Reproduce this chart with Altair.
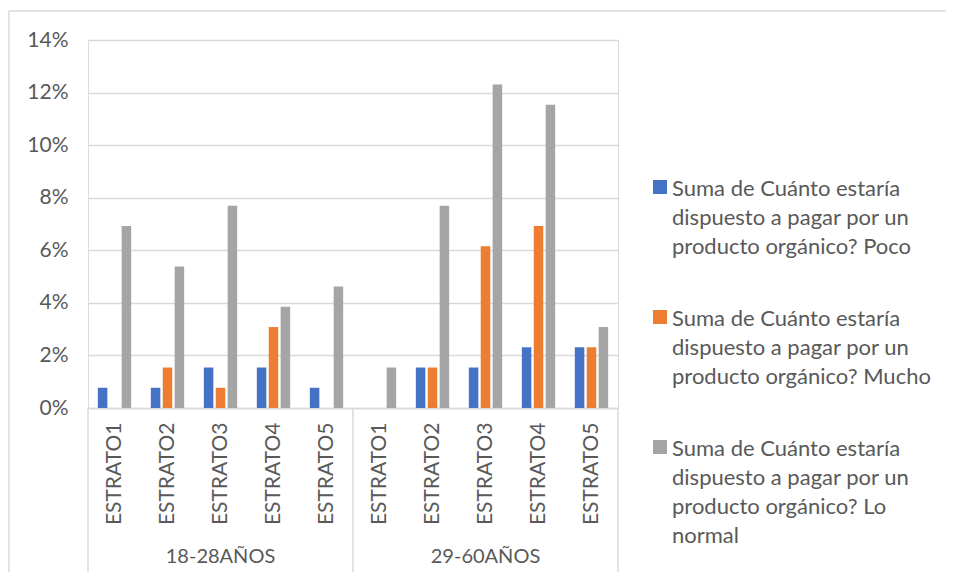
import altair as alt
import pandas as pd

groups = ["18-28AÑOS", "29-60AÑOS"]
estratos = ["ESTRATO1", "ESTRATO2", "ESTRATO3", "ESTRATO4", "ESTRATO5"]
series = [
    "Suma de Cuánto estaría|dispuesto a pagar por un|producto orgánico? Poco",
    "Suma de Cuánto estaría|dispuesto a pagar por un|producto orgánico? Mucho",
    "Suma de Cuánto estaría|dispuesto a pagar por un|producto orgánico? Lo|normal",
]
colors = ["#4472C4", "#ED7D31", "#A5A5A5"]

# values per (group, estrato), in order 18-28 E1..E5, 29-60 E1..E5
poco = [0.0077, 0.0077, 0.0154, 0.0154, 0.0077, 0.0, 0.0154, 0.0154, 0.0231, 0.0231]
mucho = [0.0, 0.0154, 0.0077, 0.0308, 0.0, 0.0, 0.0154, 0.0615, 0.0692, 0.0231]
normal = [0.0692, 0.0538, 0.0769, 0.0385, 0.0462, 0.0154, 0.0769, 0.1231, 0.1154, 0.0308]
y_ticks = [0, 0.02, 0.04, 0.06, 0.08, 0.10, 0.12, 0.14]

keys = [g + "|" + e for g in groups for e in estratos]
rows = []
for s, vals in zip(series, [poco, mucho, normal]):
    for k, v in zip(keys, vals):
        rows.append({"key": k, "serie": s, "valor": v})
df = pd.DataFrame(rows)

W, H = 530, 368
FONT = "Lato"
TXT = "#595959"
GRID = "#d9d9d9"

xscale = alt.Scale(domain=keys, paddingInner=0, paddingOuter=0)
xaxis = alt.Axis(title=None, labelExpr="split(datum.label, '|')[1]",
                 labelAngle=270, ticks=False, domainColor=GRID,
                 domainWidth=1.5, labelPadding=14, grid=False,
                 labelFontSize=21, labelColor=TXT, labelFont=FONT,
                 labelOverlap=False)

bars = alt.Chart(df).mark_bar().encode(
    x=alt.X("key:N", sort=keys, scale=xscale, axis=xaxis),
    xOffset=alt.XOffset("serie:N", sort=series,
                        scale=alt.Scale(domain=series, paddingInner=0.2, paddingOuter=0.825)),
    y=alt.Y("valor:Q", scale=alt.Scale(domain=[0, 0.14], nice=False),
            axis=alt.Axis(title=None, format=".0%", values=y_ticks, grid=True,
                          gridColor=GRID, gridWidth=1.5, domain=False, ticks=False,
                          labelPadding=20, labelFontSize=21, labelColor=TXT,
                          labelFont=FONT)),
    color=alt.Color("serie:N", sort=series,
                    scale=alt.Scale(domain=series, range=colors),
                    legend=alt.Legend(title=None, orient="none", legendX=561, legendY=128,
                                      labelExpr="split(datum.label, '|')",
                                      symbolType="M-1,0.14H1V2.14H-1Z", symbolSize=196,
                                      symbolStrokeWidth=0, labelLimit=400,
                                      rowPadding=40, labelFontSize=22,
                                      labelColor=TXT, labelFont=FONT,
                                      labelBaseline="top", labelOffset=1)),
)

sep_start = alt.Chart(pd.DataFrame({"key": [keys[0]]})).mark_rule(color=GRID, strokeWidth=1.5).encode(
    x=alt.X("key:N", scale=xscale, bandPosition=0, axis=xaxis),
    y=alt.value(H), y2=alt.value(H + 172),
)
sep_end = alt.Chart(pd.DataFrame({"key": [keys[4], keys[9]]})).mark_rule(color=GRID, strokeWidth=1.5).encode(
    x=alt.X("key:N", scale=xscale, bandPosition=1, axis=xaxis),
    y=alt.value(H), y2=alt.value(H + 172),
)

grp_df = pd.DataFrame({"key": [g + "|" + estratos[2] for g in groups], "grupo": groups})
grp_text = alt.Chart(grp_df).mark_text(fontSize=20, font=FONT, color=TXT, baseline="middle").encode(
    x=alt.X("key:N", scale=xscale, bandPosition=0.5, axis=xaxis),
    y=alt.value(H + 149),
    text="grupo:N",
)

border_left = alt.Chart(pd.DataFrame({"k": [0]})).mark_rule(color=GRID, strokeWidth=1.5).encode(
    x=alt.value(-79), y=alt.value(-29), y2=alt.value(H + 180),
)
border_top = alt.Chart(pd.DataFrame({"k": [0]})).mark_rule(color=GRID, strokeWidth=1.5).encode(
    x=alt.value(-79), x2=alt.value(W + 400), y=alt.value(-29),
)

chart = alt.layer(bars, sep_start, sep_end, grp_text, border_left, border_top).properties(
    width=W, height=H,
    autosize=alt.AutoSizeParams(type="none"),
    padding={"left": 80, "top": 32, "right": 328, "bottom": 164},
).configure_view(stroke=None).configure(
    font=FONT, style={"guide-label": {"lineHeight": 29}}
)

chart.save("out.html", embed_options={"renderer": "svg", "actions": False})
